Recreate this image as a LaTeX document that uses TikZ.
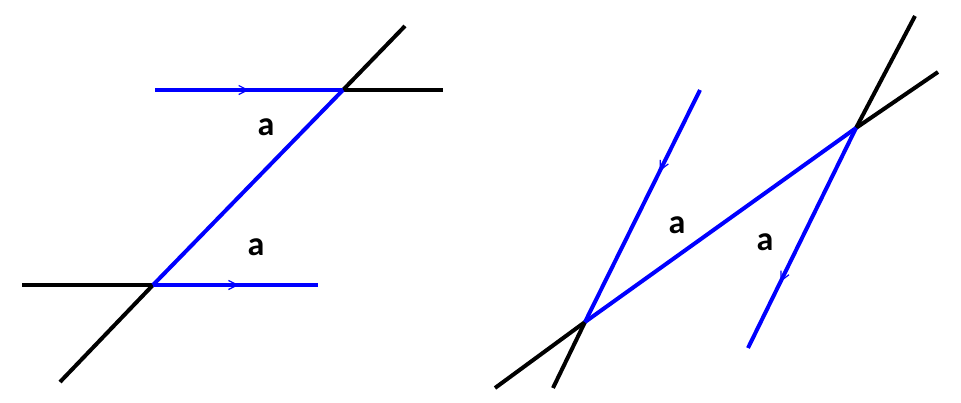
\documentclass[tikz,border=0pt]{standalone}
\usepackage{fontspec}
\setmainfont{Carlito}
\usetikzlibrary{decorations.markings,arrows.meta}
\begin{document}
\begin{tikzpicture}[x=1pt,y=-1pt,
  bk/.style={line width=4pt,black},
  bl/.style={line width=4pt,blue},
  mid/.style={postaction={decorate},decoration={markings,mark=at position #1 with {\arrow[blue,line width=1.2pt]{Straight Barb[length=9pt,width=9pt]}}}},
  lab/.style={font=\bfseries\fontsize{34}{34}\selectfont}]
\useasboundingbox (0,0) rectangle (961,402);
% left
\coordinate (A) at (343,90); \coordinate (B) at (153,285);
\coordinate (a1) at (155,90); \coordinate (a2) at (443,90); \coordinate (a3) at (405,26);
\coordinate (b1) at (22,285); \coordinate (b2) at (318,285); \coordinate (b3) at (60,382);
\draw[bk] (A) -- (a2); \draw[bk] (A) -- (a3);
\draw[bk] (b1) -- (B); \draw[bk] (B) -- (b3);
\draw[bl,mid=0.5] (a1) -- (A);
\draw[bl,mid=0.52] (B) -- (b2);
\draw[bl] (A) -- (B);
\node[lab] (l1) at (266,127) {a};
\node[lab] (l2) at (256,247) {a};
% right
\coordinate (C) at (856,128); \coordinate (D) at (585,322);
\coordinate (c1) at (938,72); \coordinate (c2) at (915,16); \coordinate (c3) at (748,348);
\coordinate (d1) at (700,90); \coordinate (d2) at (553,388); \coordinate (d3) at (495,388);
\draw[bk] (C) -- (c1); \draw[bk] (C) -- (c2);
\draw[bk] (D) -- (d2); \draw[bk] (D) -- (d3);
\draw[bl,mid=0.35] (d1) -- (D);
\draw[bl,mid=0.7] (C) -- (c3);
\draw[bl] (D) -- (C);
\node[lab] (l3) at (677,225) {a};
\node[lab] (l4) at (765,242) {a};
\end{tikzpicture}
\end{document}
